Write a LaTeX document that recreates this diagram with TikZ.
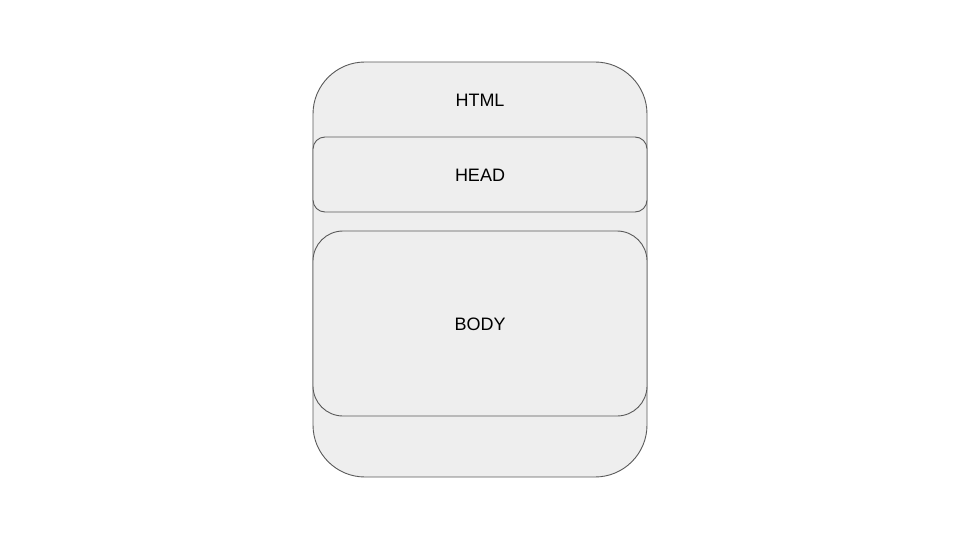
\documentclass[tikz,border=0pt]{standalone}
\usepackage{fontspec}
\setmainfont{Liberation Sans}
\definecolor{boxfill}{HTML}{EEEEEE}
\definecolor{boxline}{HTML}{595959}
\begin{document}
\begin{tikzpicture}[x=1pt,y=-1pt,
  boxstyle/.style={draw=boxline,fill=boxfill,line width=0.9pt},
  lbl/.style={font=\fontsize{18}{21}\selectfont,text=black,inner sep=0pt}]
\useasboundingbox (0,0) rectangle (960,540);
\draw[boxstyle,rounded corners=52pt] (313,62) rectangle (647,477);
\draw[boxstyle,rounded corners=12pt] (313,137) rectangle (647,212);
\draw[boxstyle,rounded corners=30pt] (313,231) rectangle (647,416);
\node[lbl] (html) at (480,100) {HTML};
\node[lbl] (head) at (480,175) {HEAD};
\node[lbl] (body) at (480,324) {BODY};
\end{tikzpicture}
\end{document}
